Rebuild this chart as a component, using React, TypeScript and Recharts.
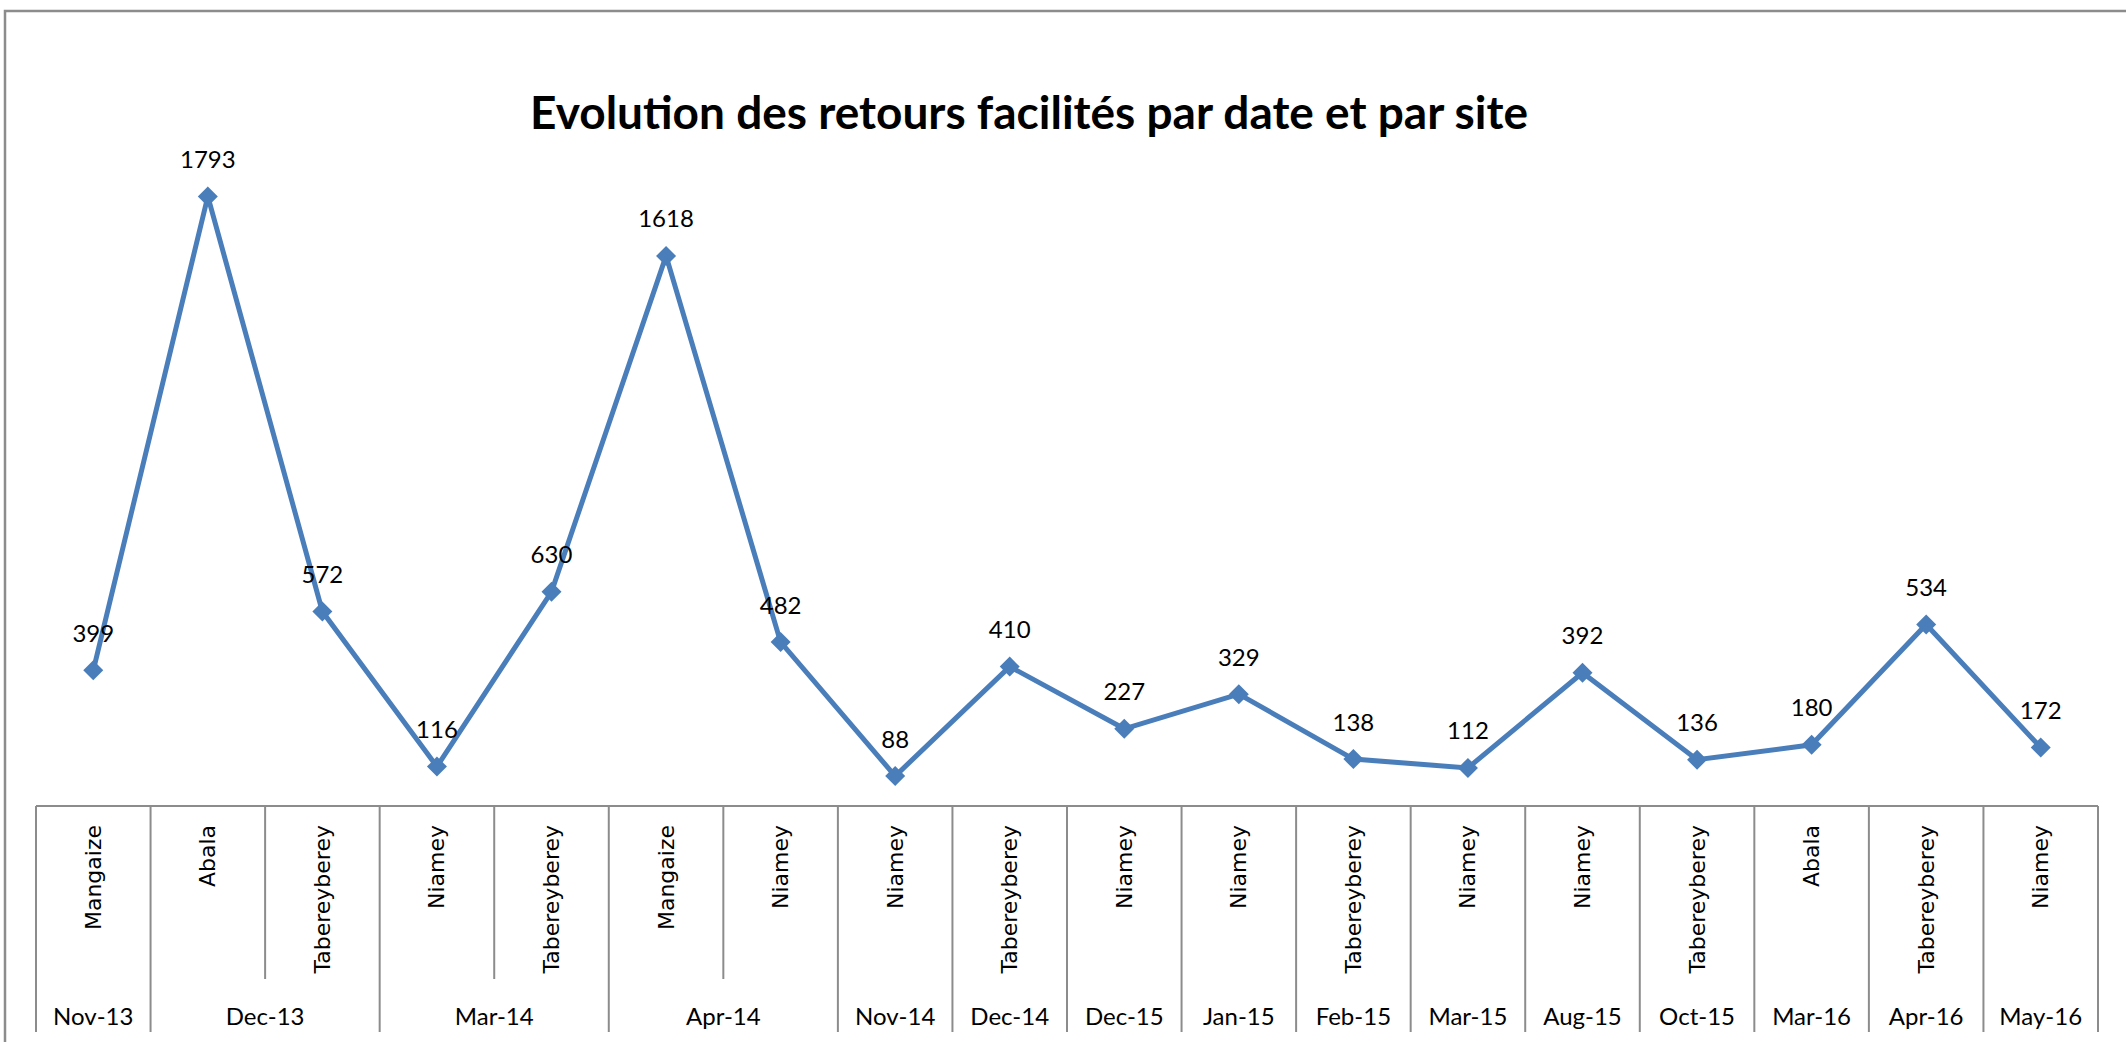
import React from "react";
import { LineChart, Line, XAxis, YAxis, LabelList } from "recharts";

// ── Data ─────────────────────────────────────────────────────────────────────

const sites = [
  "Mangaize", "Abala", "Tabereyberey", "Niamey", "Tabereyberey", "Mangaize",
  "Niamey", "Niamey", "Tabereyberey", "Niamey", "Niamey", "Tabereyberey",
  "Niamey", "Niamey", "Tabereyberey", "Abala", "Tabereyberey", "Niamey",
];

const months = [
  "Nov-13", "Dec-13", "Dec-13", "Mar-14", "Mar-14", "Apr-14",
  "Apr-14", "Nov-14", "Dec-14", "Dec-15", "Jan-15", "Feb-15",
  "Mar-15", "Aug-15", "Oct-15", "Mar-16", "Apr-16", "May-16",
];

const retours = [399, 1793, 572, 116, 630, 1618, 482, 88, 410, 227, 329, 138, 112, 392, 136, 180, 534, 172];

const data = sites.map((site, i) => ({ site, month: months[i], value: retours[i] }));

// ── Layout ───────────────────────────────────────────────────────────────────

const W = 2126;
const H = 1042;
const PLOT_LEFT = 36;
const PLOT_RIGHT = 2098;
const BAND = (PLOT_RIGHT - PLOT_LEFT) / sites.length;
const BLUE = "#4A7EBB";
const GRID = "#8c8c8c";
const LABEL_FONT = "Lato, 'Open Sans', sans-serif";

// ── Axis tick: rotated site + grouped month row ──────────────────────────────

function SiteTick(props: any) {
  const { x, y, index } = props;
  const left = x - BAND / 2;
  const start = index === 0 || months[index] !== months[index - 1];
  let groupSize = 1;
  while (index + groupSize < months.length && months[index + groupSize] === months[index]) groupSize++;
  const last = index === months.length - 1;
  return (
    <g>
      <line x1={left} x2={left} y1={y} y2={y + (start ? 226 : 173)} stroke={GRID} strokeWidth={2} />
      {last && <line x1={x + BAND / 2} x2={x + BAND / 2} y1={y} y2={y + 226} stroke={GRID} strokeWidth={2} />}
      <text
        x={x}
        y={y + 19}
        transform={`rotate(-90, ${x}, ${y + 19})`}
        textAnchor="end"
        dominantBaseline="central"
        fontFamily="'DejaVu Sans', Verdana, sans-serif"
        fontSize={22}
        fill="#000"
      >
        {sites[index]}
      </text>
      {start && (
        <text
          x={left + (groupSize * BAND) / 2}
          y={y + 209}
          textAnchor="middle"
          dominantBaseline="central"
          fontFamily={LABEL_FONT}
          fontSize={24}
          fill="#000"
        >
          {months[index]}
        </text>
      )}
    </g>
  );
}

function Diamond(props: any) {
  const { cx, cy } = props;
  if (cx == null || cy == null) return null;
  const r = 10;
  return <path d={`M${cx},${cy - r}L${cx + r},${cy}L${cx},${cy + r}L${cx - r},${cy}Z`} fill={BLUE} />;
}

function ValueLabel(props: any) {
  const { x, y, value } = props;
  return (
    <text x={x} y={y - 38} textAnchor="middle" dominantBaseline="central" fontFamily={LABEL_FONT} fontSize={24} fill="#000">
      {value}
    </text>
  );
}

export default function App() {
  return (
    <div style={{ position: "absolute", left: 0, top: 0, width: W, height: H, background: "#fff", overflow: "hidden" }}>
      <LineChart width={W} height={H} data={data} margin={{ top: 126, right: W - PLOT_RIGHT, bottom: 0, left: PLOT_LEFT }}>
        <XAxis
          dataKey="site"
          interval={0}
          height={236}
          padding={{ left: BAND / 2, right: BAND / 2 }}
          tickLine={false}
          tickSize={0}
          tickMargin={0}
          axisLine={{ stroke: GRID, strokeWidth: 2 }}
          tick={<SiteTick />}
        />
        <YAxis hide domain={[0, 2000]} />
        <Line
          dataKey="value"
          stroke={BLUE}
          strokeWidth={5}
          dot={<Diamond />}
          activeDot={false}
          isAnimationActive={false}
        >
          <LabelList dataKey="value" content={<ValueLabel />} />
        </Line>
      </LineChart>
      <svg width={W} height={H} style={{ position: "absolute", left: 0, top: 0, pointerEvents: "none" }}>
        <rect x={5} y={11} width={W + 20} height={H + 20} fill="none" stroke={GRID} strokeWidth={2.5} />
        <text
          x={1029}
          y={129}
          textAnchor="middle"
          fontFamily={LABEL_FONT}
          fontWeight="bold"
          fontSize={46}
          fill="#000"
        >
          Evolution des retours facilités par date et par site
        </text>
      </svg>
    </div>
  );
}
